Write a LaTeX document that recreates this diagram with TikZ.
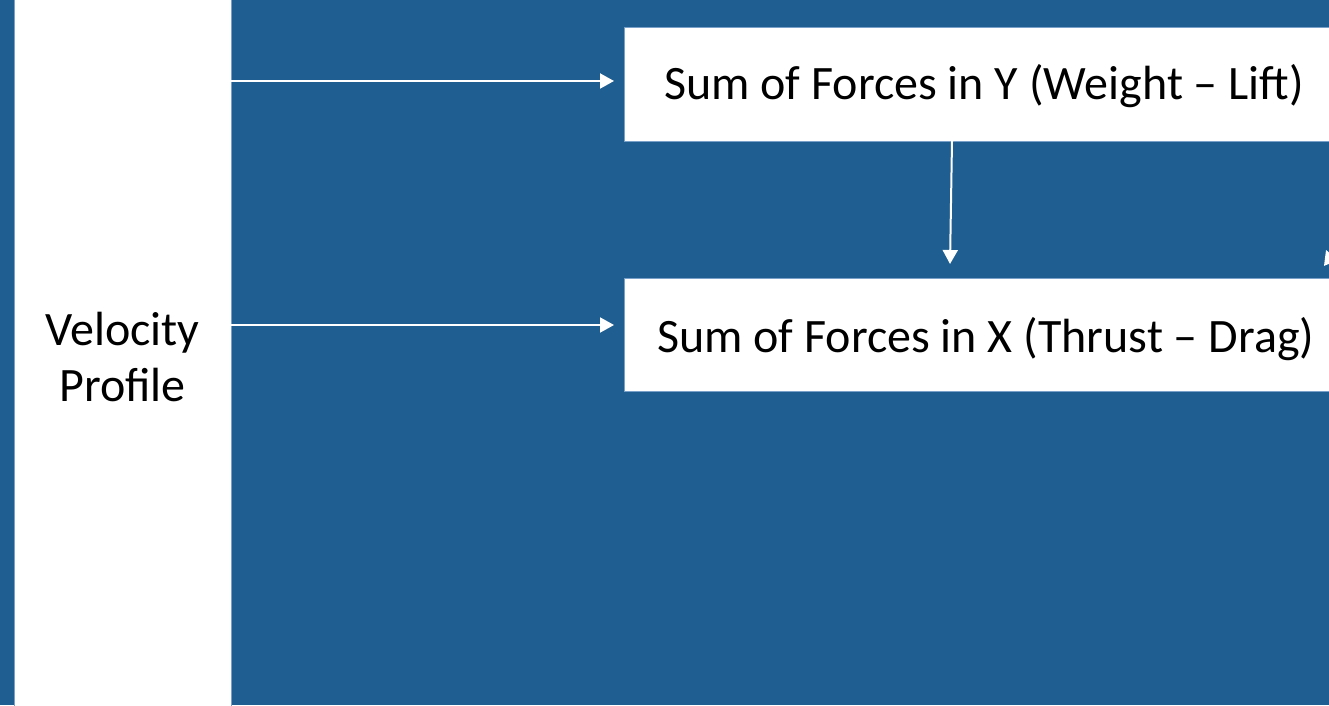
\documentclass[tikz,border=0pt]{standalone}
\usepackage{fontspec}
\setmainfont{Carlito}
\usetikzlibrary{arrows.meta}
\definecolor{bg}{RGB}{30,94,145}
\definecolor{edge}{RGB}{120,160,200}
\begin{document}
\begin{tikzpicture}[x=1pt,y=1pt,
  box/.style={fill=white,draw=edge,line width=0.8pt,inner sep=0pt},
  lbl/.style={text=black,font=\fontsize{48}{56}\selectfont,inner sep=0pt},
  conn/.style={draw=white,line width=2pt,-{Triangle[length=14pt,width=15pt]}}]
\useasboundingbox (0,0) rectangle (1329,705);
\fill[bg] (0,0) rectangle (1329,705);
\clip (0,0) rectangle (1329,705);
\node[box,minimum width=217pt,minimum height=710pt] (vp) at (122.5,352) {};
\node[lbl,align=center] (vpt) at (122.5,348) {Velocity\\Profile};
\node[box,anchor=north west,minimum width=720pt,minimum height=114pt] (fy) at (624,678) {};
\node[lbl,anchor=base west] (fyt) at (664,605) {Sum of Forces in Y (Weight – Lift)};
\node[box,anchor=north west,minimum width=720pt,minimum height=113pt] (fx) at (624,427) {};
\node[lbl,anchor=base west] (fxt) at (657,353) {Sum of Forces in X (Thrust – Drag)};
\coordinate (a1) at (231,624);
\coordinate (a1e) at (614,624);
\draw[conn] (a1) -- (a1e);
\coordinate (a2) at (231,380);
\coordinate (a2e) at (614,380);
\draw[conn] (a2) -- (a2e);
\coordinate (v1) at (952,564);
\coordinate (v2) at (950,441);
\draw[conn] (v1) -- (v2);
\coordinate (r1) at (1338,425);
\coordinate (r2) at (1326,455);
\draw[conn] (r1) -- (r2);
\end{tikzpicture}
\end{document}
